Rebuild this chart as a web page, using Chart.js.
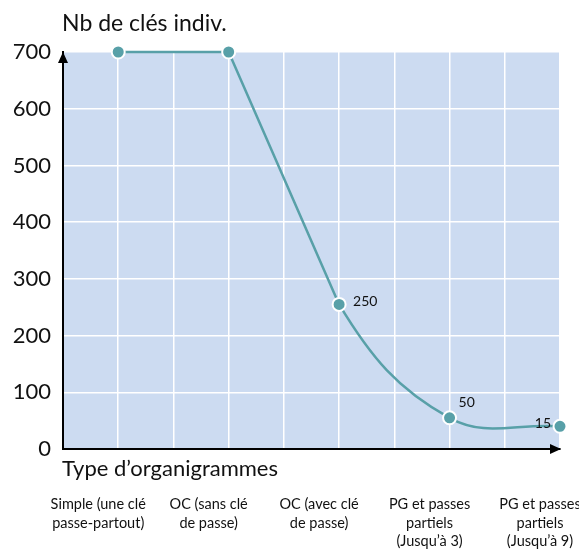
<!DOCTYPE html>
<html>
<head>
<meta charset="utf-8">
<script src="https://cdn.jsdelivr.net/npm/chart.js@4/dist/chart.umd.min.js"></script>
<style>
  html, body { margin: 0; padding: 0; background: #fff; }
</style>
</head>
<body>
<canvas id="myChart" width="579" height="553"></canvas>
<script>
  const categories = [
    ['Simple (une clé', 'passe-partout)'],
    ['OC (sans clé', 'de passe)'],
    ['OC (avec clé', 'de passe)'],
    ['PG et passes', 'partiels', '(Jusqu\u2019à 3)'],
    ['PG et passes', 'partiels', '(Jusqu\u2019à 9)']
  ];
  const positions = [1, 2, 3, 4, 5];
  // where the points sit in the picture; the printed numbers are below
  const keyCounts = [700, 700, 255, 55, 40];
  const pointLabels = ['', '', '250', '50', '15'];
  const yMax = 700;
  const yStep = 100;

  const yTitle = 'Nb de clés indiv.';
  const xTitle = 'Type d\u2019organigrammes';

  const FONT = 'Lato';
  const teal = '#58a0a8';
  const plotBlue = '#ccdbf1';

  const points = positions.map((x, i) => ({ x: x, y: keyCounts[i] }));

  const extras = {
    id: 'extras',
    beforeDraw(chart) {
      const { ctx, chartArea: a } = chart;
      ctx.save();
      ctx.fillStyle = plotBlue;
      ctx.fillRect(a.left, a.top, a.right - a.left, a.bottom - a.top);
      ctx.restore();
    },
    afterDraw(chart) {
      const { ctx, chartArea: a } = chart;
      ctx.save();
      // arrow heads
      ctx.fillStyle = '#000';
      ctx.beginPath();
      ctx.moveTo(a.left, a.top);
      ctx.lineTo(a.left - 5, a.top + 11);
      ctx.lineTo(a.left + 5, a.top + 11);
      ctx.closePath();
      ctx.fill();
      ctx.beginPath();
      ctx.moveTo(a.right + 1, a.bottom);
      ctx.lineTo(a.right - 10, a.bottom - 5);
      ctx.lineTo(a.right - 10, a.bottom + 5);
      ctx.closePath();
      ctx.fill();

      // axis titles
      ctx.fillStyle = '#111';
      ctx.textBaseline = 'middle';
      ctx.textAlign = 'left';
      ctx.font = '23px ' + FONT;
      ctx.fillText(yTitle, a.left - 1, 24);
      ctx.font = '22px ' + FONT;
      ctx.fillText(xTitle, a.left - 1, a.bottom + 20);

      // value labels
      const meta = chart.getDatasetMeta(0);
      ctx.font = '14px ' + FONT;
      const offs = [null, null, [14, -3, 'left'], [9, -15, 'left'], [-9, -3, 'right']];
      meta.data.forEach((pt, i) => {
        if (!pointLabels[i]) return;
        const [dx, dy, al] = offs[i];
        ctx.textAlign = al;
        ctx.fillText(pointLabels[i], pt.x + dx, pt.y + dy);
      });
      ctx.restore();
    }
  };

  const ctx = document.getElementById('myChart').getContext('2d');
  new Chart(ctx, {
    type: 'line',
    data: {
      datasets: [{
        // curved tail + all markers
        data: points,
        order: 1,
        borderColor: teal,
        borderWidth: 2.5,
        tension: 0.4,
        segment: {
          borderColor: c => c.p0DataIndex < 2 ? 'rgba(0,0,0,0)' : teal
        },
        pointRadius: 6.5,
        pointBackgroundColor: teal,
        pointBorderColor: '#fff',
        pointBorderWidth: 2,
        clip: false
      }, {
        // straight part up to the third point
        data: points.slice(0, 3),
        order: 2,
        borderColor: teal,
        borderWidth: 2.5,
        tension: 0,
        pointRadius: 0,
        clip: false
      }]
    },
    options: {
      responsive: false,
      devicePixelRatio: 1,
      animation: false,
      layout: { padding: { left: 11, right: 19, top: 52, bottom: 2 } },
      plugins: { legend: { display: false }, tooltip: { enabled: false } },
      scales: {
        x: {
          type: 'linear',
          min: 0.5,
          max: 5,
          afterFit(scale) { scale.paddingLeft = 0; scale.paddingRight = 0; scale.height = 102; },
          afterBuildTicks(scale) {
            const t = [];
            for (let v = 0.5; v <= 5.001; v += 0.5) t.push({ value: v });
            scale.ticks = t;
          },
          grid: { color: '#fff', lineWidth: 1.5, drawTicks: false },
          border: { color: '#000', width: 2 },
          ticks: {
            autoSkip: false,
            maxRotation: 0,
            padding: 46,
            labelOffset: -20,
            color: '#111',
            font: { family: FONT, size: 14.5, lineHeight: 1.28 },
            callback(v) {
              const i = positions.indexOf(v);
              return i >= 0 ? categories[i] : '';
            }
          }
        },
        y: {
          min: 0,
          max: yMax,
          afterFit(scale) { scale.width = 52; },
          grid: { color: '#fff', lineWidth: 1.5, drawTicks: false },
          border: { color: '#000', width: 2 },
          ticks: {
            stepSize: yStep,
            padding: 12,
            color: '#111',
            font: { family: FONT, size: 22 }
          }
        }
      }
    },
    plugins: [extras]
  });
</script>
</body>
</html>
